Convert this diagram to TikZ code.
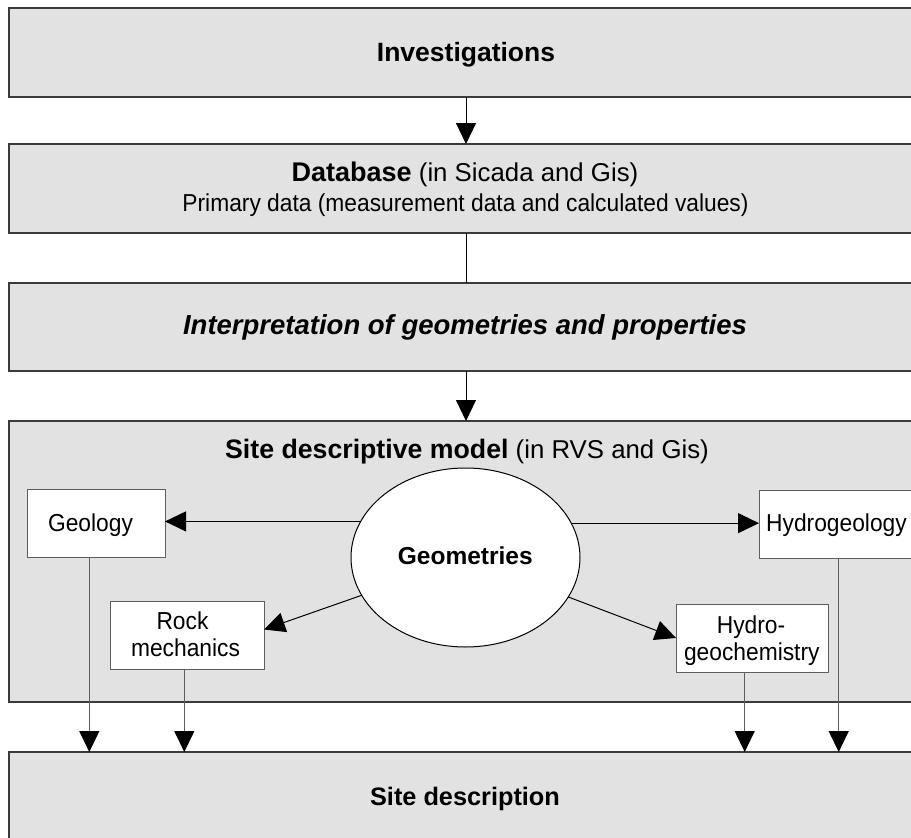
\documentclass[tikz,border=0pt]{standalone}
\usepackage{fontspec}
\setmainfont{Liberation Sans}
\newfontfamily\narrowsans[FakeStretch=0.93]{Liberation Sans}
\usetikzlibrary{arrows.meta,shapes.geometric}

\definecolor{bandfill}{HTML}{E2E2E2}
\definecolor{edgegray}{HTML}{3A3A3A}
\definecolor{linegray}{HTML}{5E5E5E}

% font sizes (in pt, the picture unit)
\newcommand\hdfont{\fontsize{26.5}{30}\selectfont\bfseries}
\newcommand\tlfont{\fontsize{25.8}{30}\selectfont}
\newcommand\bxfont{\narrowsans\fontsize{24.5}{27.4}\selectfont}

\begin{document}
\begin{tikzpicture}[x=1pt,y=-1pt,
  band/.style={draw=edgegray, line width=1.2pt, fill=bandfill, rectangle,
               inner sep=0pt, outer sep=0pt, anchor=north west, minimum width=914pt},
  topic/.style={draw=linegray, line width=1pt, fill=white, rectangle,
                inner sep=0pt, outer sep=0pt, anchor=north west, minimum height=68pt},
  txt/.style={anchor=base, inner sep=0pt},
  tip/.style={-{Triangle[length=21pt,width=20pt,black]}},
  flow/.style={draw=black, line width=1pt, tip},
  plainline/.style={draw=black, line width=1pt},
  feed/.style={draw=linegray, line width=1.2pt, tip},
]
\useasboundingbox (0,0) rectangle (911,838);
\clip (0,0) rectangle (911,838);

% main bands
\node[band, minimum height=89pt]  (inv)    at (9,8)   {};
\node[band, minimum height=89pt]  (db)     at (9,144) {};
\node[band, minimum height=88pt]  (interp) at (9,283) {};
\node[band, minimum height=281pt] (sdm)    at (9,421) {};
\node[band, minimum height=100pt] (sd)     at (9,752) {};

% topic boxes inside the site descriptive model
\node[topic, minimum width=138pt] (geo)  at (27,489)  {};
\node[topic, minimum width=160pt] (hyd)  at (759,490) {};
\node[topic, minimum width=154pt] (rock) at (110,601) {};
\node[topic, minimum width=152pt] (hgc)  at (676,604) {};

% central ellipse
\node[draw=black, line width=1pt, fill=white, ellipse, inner sep=0pt, outer sep=0pt,
      minimum width=229pt, minimum height=179pt] (geom) at (465.5,557.5) {};

% texts
\node[txt] (invT) at (466,61.7) {\hdfont Investigations};
\node[txt] (dbT1) at (465,181.7) {\tlfont{\fontsize{27}{30}\selectfont\bfseries Database} (in Sicada and Gis)};
\node[txt] (dbT2) at (465.5,211.7) {\bxfont Primary data (measurement data and calculated values)};
\node[txt] (interpT) at (465,334) {\fontsize{27.5}{30}\selectfont\bfseries\itshape Interpretation of geometries and properties};
\node[txt] (sdmT) at (467,458) {\tlfont{\fontsize{26.7}{30}\selectfont\bfseries Site descriptive model} (in RVS and Gis)};
\node[txt] (geomT) at (465.3,564) {\fontsize{24.5}{28}\selectfont\bfseries Geometries};
\node[txt] (geoT)  at (90.5,531)  {\bxfont Geology};
\node[txt] (hydT)  at (836.5,531.7) {\bxfont Hydrogeology};
\node[txt] (rockT1) at (182.5,629.3) {\bxfont Rock};
\node[txt] (rockT2) at (185.5,656.7) {\bxfont mechanics};
\node[txt] (hgcT1) at (751,633.3) {\bxfont Hydro-};
\node[txt] (hgcT2) at (751.8,660.7) {\bxfont geochemistry};
\node[txt] (sdT) at (465,805) {\fontsize{25.3}{30}\selectfont\bfseries Site description};

% flow between the bands
\draw[flow] (inv.south) -- (db.north);
\draw[plainline] (db.south) -- (interp.north);
\draw[flow] (interp.south) -- (sdm.north);

% from the geometries to the disciplines
\draw[flow] (geom.161.9) -- (geom.161.9 -| geo.east);
\draw[flow] (geom.18.1) -- (geom.18.1 -| hyd.west);
\draw[flow] (geom.200) -- ([yshift=5.5pt]rock.east);
\draw[flow] (geom.339) -- (hgc.west);

% disciplines feeding the site description
\coordinate (geoDrop)  at ([xshift=-6.7pt]geo.south);
\coordinate (rockDrop) at ([xshift=-2.7pt]rock.south);
\coordinate (hgcDrop)  at ([xshift=-7.3pt]hgc.south);
\coordinate (hydDrop)  at ([xshift=-0.3pt]hyd.south);
\draw[feed] (geoDrop)  -- (geoDrop  |- sd.north);
\draw[feed] (rockDrop) -- (rockDrop |- sd.north);
\draw[feed] (hgcDrop)  -- (hgcDrop  |- sd.north);
\draw[feed] (hydDrop)  -- (hydDrop  |- sd.north);
\end{tikzpicture}
\end{document}
